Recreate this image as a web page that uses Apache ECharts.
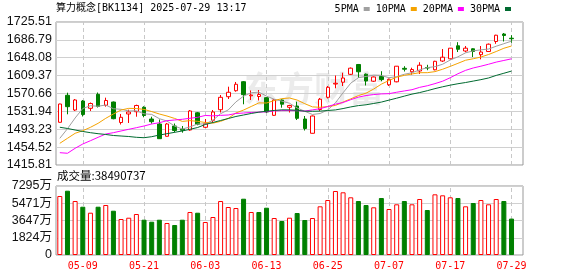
<!DOCTYPE html>
<html><head><meta charset="utf-8">
<script src="https://cdn.jsdelivr.net/npm/echarts@6/dist/echarts.min.js"></script>
<style>html,body{margin:0;padding:0;background:#fff}#c{width:578px;height:276px}</style>
</head><body><div id="c"></div>
<script>
const dates = ['05-06','05-07','05-08','05-09','05-12','05-13','05-14','05-15','05-16','05-19','05-20','05-21','05-22','05-23','05-26','05-27','05-28','05-29','05-30',
'06-03','06-04','06-05','06-06','06-09','06-10','06-11','06-12','06-13','06-16','06-17','06-18','06-19','06-20','06-23','06-24','06-25','06-26','06-27','06-30',
'07-01','07-02','07-03','07-04','07-07','07-08','07-09','07-10','07-11','07-14','07-15','07-16','07-17','07-18','07-21','07-22','07-23','07-24','07-25','07-28','07-29',''];
const labelDates = ['05-09','05-21','06-03','06-13','06-25','07-07','07-17','07-29'];
const opens = [1508.3,1566.8,1534.9,1554.4,1538.6,1568.9,1545.1,1552.2,1507.8,1526.3,1531.2,1540.8,1515.4,1504.6,1478.0,1500.3,1493.1,1491.6,1528.9,1497.5,1512.6,1535.6,1563.7,1576.7,1596.2,1565.7,1564.2,1561.6,1523.4,1556.6,1540.8,1543.6,1515.4,1484.5,1536.0,1562.4,1591.2,1595.1,1612.2,1633.5,1612.5,1597.3,1607.7,1589.5,1596.0,1625.2,1617.7,1619.4,1627.0,1622.0,1641.0,1645.8,1674.0,1662.7,1667.5,1654.7,1661.6,1683.3,1699.5,1690.4];
const closes = [1547.9,1542.1,1556.6,1525.2,1549.0,1542.5,1555.5,1516.1,1519.1,1530.6,1544.7,1523.0,1509.6,1472.8,1504.6,1490.5,1491.0,1532.8,1504.0,1505.2,1530.6,1562.4,1573.3,1590.6,1568.1,1567.4,1568.5,1530.6,1556.6,1547.5,1544.7,1516.9,1494.9,1521.9,1558.3,1584.1,1592.8,1604.2,1625.5,1617.7,1597.7,1606.4,1600.8,1601.4,1629.8,1623.3,1622.6,1631.9,1625.9,1640.4,1649.3,1668.8,1666.4,1668.8,1661.6,1660.5,1677.4,1696.9,1696.3,1689.3];
const highs = [1548.5,1572.4,1558.7,1556.6,1551.2,1572.8,1561.6,1553.3,1526.3,1535.6,1546.4,1543.0,1520.4,1514.4,1506.8,1505.7,1500.3,1534.9,1530.6,1515.4,1534.9,1567.4,1585.4,1595.6,1597.7,1577.2,1578.2,1563.0,1558.1,1558.1,1546.2,1552.9,1521.9,1523.0,1560.9,1586.9,1609.6,1615.7,1627.0,1634.6,1614.0,1607.5,1618.9,1603.1,1630.2,1629.8,1626.5,1638.4,1632.8,1641.5,1667.0,1669.2,1681.8,1673.5,1668.6,1673.5,1678.9,1697.8,1701.7,1696.9];
const lows = [1507.5,1525.6,1532.8,1520.9,1532.8,1540.3,1542.1,1514.8,1503.5,1506.8,1520.4,1519.1,1505.2,1472.1,1477.5,1486.2,1485.8,1490.1,1501.8,1496.0,1508.3,1529.5,1558.7,1574.6,1547.3,1556.6,1555.5,1528.4,1521.9,1539.9,1529.5,1513.3,1490.5,1484.0,1532.8,1559.8,1581.9,1586.9,1610.7,1604.2,1588.0,1595.6,1597.1,1586.9,1594.9,1618.3,1611.4,1612.9,1621.1,1620.9,1638.9,1644.3,1660.5,1659.9,1649.7,1644.7,1660.5,1678.3,1683.3,1680.7];
// volume in 万 shares
const volumes = [6237,6797,5708,5105,4471,5105,5285,4683,3805,3943,4334,3731,3520,3731,3382,3171,3731,4545,4471,3488,4017,5708,5074,4968,5951,4545,4545,5000,3911,3594,3943,4439,3700,3911,5148,5814,6765,6628,6099,5708,5285,5042,6025,4862,5359,5708,5359,5919,4757,6416,6310,6099,6025,5148,5497,5814,5359,5919,5708,3849.0737];
const volUp = [1,0,1,0,1,0,1,0,1,1,1,0,0,0,1,0,0,1,0,1,1,1,1,1,0,1,0,0,1,0,1,0,0,1,1,1,1,1,1,0,0,1,0,1,1,0,1,1,0,1,1,1,0,1,0,1,1,1,0,0];
// moving-average values before enough visible closes exist
const ma5Head = [1473.6,1494.4,1517.6,1538.2];
const ma10Head = [1462.8,1473.6,1484.5,1490.1,1497.4,1506.1,1516.9,1526.3,1534.9];
const ma20Head = [1442.5,1441.2,1452.0,1461.3,1468.4,1475.8,1482.9,1485.8,1489.5,1493.1,1496.6,1500.3,1504.6,1507.4,1511.8,1513.3,1514.8,1517.0,1519.1];
const ma30Head = [1497.5,1494.9,1491.6,1488.4,1485.8,1483.6,1481.9,1479.7,1478.6,1477.5,1475.8,1474.9,1477.1,1480.7,1483.6,1486.6,1489.5,1493.1,1497.0,1503.5,1507.9,1512.2,1516.5,1520.9,1524.1,1527.4,1530.2,1532.3,1533.9];
const priceTicks = ['1415.81','1454.52','1493.23','1531.94','1570.66','1609.37','1648.08','1686.79','1725.51'];
const volTicks = ['0','1824万','3647万','5471万','7295万'];

function movingAvg(n, head) {
  return closes.map((c, i) => {
    if (i < n - 1) return head[i];
    let s = 0; for (let k = i - n + 1; k <= i; k++) s += closes[k];
    return +(s / n).toFixed(2);
  });
}
const candles = opens.map((o, i) => [o, closes[i], lows[i], highs[i]]);
const pMin = 1415.81, pMax = 1725.51, pStep = (pMax - pMin) / 8;
const vMax = 7295, vStep = vMax / 4;

const mono = "'DejaVu Sans Mono','Noto Sans CJK SC',monospace";
const vline = {
  silent: true, symbol: ['none', 'none'], z: 1, animation: false,
  label: {show: false}, emphasis: {disabled: true},
  lineStyle: {type: [4, 3], color: '#c8c8c8', width: 1},
  data: labelDates.map(d => ({xAxis: d}))
};
const upStyle = {color: '#ffffff', borderColor: '#ff0000', borderWidth: 1};
const downStyle = {color: '#008000', borderColor: '#008000', borderWidth: 1};

const chart = echarts.init(document.getElementById('c'));
chart.setOption({
  animation: false,
  backgroundColor: '#fff',
  title: [
    {text: '算力概念[BK1134] 2025-07-29 13:17', left: 56, top: 3, padding: 0,
     textStyle: {fontSize: 10, fontWeight: 'normal', color: '#000', fontFamily: mono}},
    {text: '成交量:' + Math.round(volumes[volumes.length - 1] * 10000), left: 57, top: 170, padding: 0,
     textStyle: {fontSize: 11.5, fontWeight: 'normal', color: '#000', fontFamily: "'Noto Sans CJK SC'"}}
  ],
  legend: {
    data: ['5PMA', '10PMA', '20PMA', '30PMA'], right: 67, top: 4, align: 'right',
    icon: 'rect', itemWidth: 6, itemHeight: 4, itemGap: 6, selectedMode: false, padding: 0,
    textStyle: {fontSize: 10, color: '#000', fontFamily: mono}
  },
  graphic: [
    {type: 'text', left: 244, top: 71, z: 0, silent: true,
     style: {text: '东方财富', fontSize: 35, fontWeight: 'bold', fill: 'rgba(0,0,0,0.08)', fontFamily: "'Noto Sans CJK SC'"}}
  ],
  grid: [
    {left: 56, top: 22, width: 467, height: 143, show: true, borderColor: '#999', borderWidth: 1, backgroundColor: 'transparent'},
    {left: 56, top: 186, width: 467, height: 69, show: true, borderColor: '#999', borderWidth: 1, backgroundColor: 'transparent'}
  ],
  xAxis: [
    {type: 'category', gridIndex: 0, data: dates, boundaryGap: true,
     axisLine: {show: false}, axisTick: {show: false}, axisLabel: {show: false}, splitLine: {show: false}},
    {type: 'category', gridIndex: 1, data: dates, boundaryGap: true,
     axisLine: {show: false}, axisTick: {show: false}, splitLine: {show: false},
     axisLabel: {interval: (i, v) => labelDates.includes(v), color: '#ff0000', fontSize: 10, fontFamily: mono, margin: 6}}
  ],
  yAxis: [
    {type: 'value', gridIndex: 0, min: pMin, max: pMax, interval: pStep, scale: true,
     axisLine: {show: false}, axisTick: {show: false},
     axisLabel: {formatter: v => priceTicks[Math.round((v - pMin) / pStep)], color: '#111', fontSize: 12.5,
                 fontFamily: "'Liberation Sans',Arial", margin: 4},
     splitLine: {lineStyle: {color: '#d0d0d0', width: 1}}},
    {type: 'value', gridIndex: 1, min: 0, max: vMax, interval: vStep,
     axisLine: {show: false}, axisTick: {show: false},
     axisLabel: {formatter: v => volTicks[Math.round(v / vStep)], color: '#111', fontSize: 12.5,
                 fontFamily: "'Liberation Sans','Noto Sans CJK SC',Arial", margin: 4},
     splitLine: {lineStyle: {color: '#d0d0d0', width: 1}}}
  ],
  series: [
    {type: 'candlestick', name: 'K', xAxisIndex: 0, yAxisIndex: 0, data: candles, barWidth: 4,
     itemStyle: {color: '#ffffff', color0: '#008000', borderColor: '#ff0000', borderColor0: '#008000', borderWidth: 1},
     markLine: vline},
    {type: 'line', name: '5PMA', data: movingAvg(5, ma5Head), symbol: 'none', lineStyle: {width: 1, color: '#a0a0a0'}, itemStyle: {color: '#a0a0a0'}},
    {type: 'line', name: '10PMA', data: movingAvg(10, ma10Head), symbol: 'none', lineStyle: {width: 1, color: '#f5a300'}, itemStyle: {color: '#f5a300'}},
    {type: 'line', name: '20PMA', data: movingAvg(20, ma20Head), symbol: 'none', lineStyle: {width: 1, color: '#ff00ff'}, itemStyle: {color: '#ff00ff'}},
    {type: 'line', name: '30PMA', data: movingAvg(30, ma30Head), symbol: 'none', lineStyle: {width: 1, color: '#006a30'}, itemStyle: {color: '#006a30'}},
    {type: 'bar', name: 'VOL', xAxisIndex: 1, yAxisIndex: 1, barWidth: 5,
     data: volumes.map((v, i) => ({value: v, itemStyle: volUp[i] ? upStyle : downStyle})),
     markLine: vline}
  ]
});
</script></body></html>
